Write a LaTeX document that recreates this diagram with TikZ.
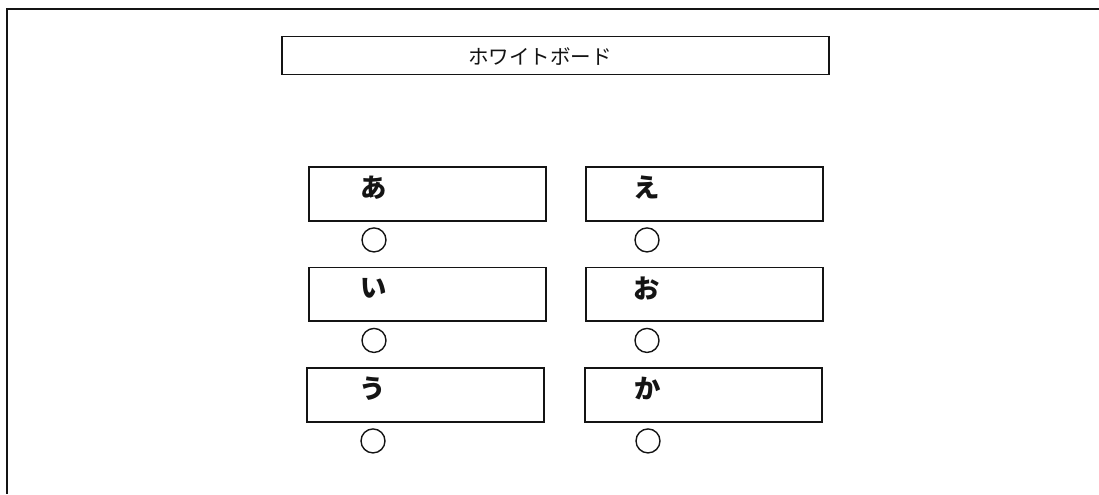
\documentclass[tikz,border=0pt]{standalone}
\usepackage{fontspec}
\newfontfamily\jpfont{Noto Sans CJK JP}
\usepackage{tikz}
\usetikzlibrary{positioning,calc}
\definecolor{linecolor}{RGB}{20,20,20}
\tikzstyle{board}=[rectangle,draw=linecolor,line width=1.1pt,minimum width=10.94cm,minimum height=0.76cm,inner sep=0pt]
\tikzstyle{answer box}=[rectangle,draw=linecolor,line width=1.1pt,minimum width=4.74cm,minimum height=1.08cm,inner sep=0pt]
\tikzstyle{answer label}=[inner sep=0pt,text=linecolor,font=\jpfont\bfseries\fontsize{15pt}{15pt}\selectfont]
\tikzstyle{answer mark}=[circle,draw=linecolor,line width=0.8pt,minimum size=0.48cm,inner sep=0pt]
\tikzstyle{frameline}=[line width=1.2pt,draw=linecolor]

\begin{document}
\begin{tikzpicture}[x=0.02cm,y=-0.02cm]
\def\rowsep{100.5}
\def\boxtop{166}
\def\circlesep{18}
\useasboundingbox (0,0) rectangle (1099,494);

	% Frame
    \coordinate (F-tr) at (1099,9);
    \coordinate (F-tl) at (7,9);
    \coordinate (F-bl) at (7,494);
    \draw[frameline] (F-tr) -- (F-tl) -- (F-bl);

	% Whiteboard
    \node[board] (WB) at (555.5,55.5) {};
    \node[inner sep=0pt, text=linecolor, font=\jpfont\fontsize{11.7pt}{12pt}\selectfont] (WB-text) at (540,57) {ホワイトボード};

	% Answer boxes
    \foreach \name / \txt / \col / \row / \xbox / \xlab in {1/あ/1/0/308/374, 2/い/1/1/308/374, 3/う/1/2/306/373, 4/え/2/0/585/647, 5/お/2/1/585/647, 6/か/2/2/584/648}
    {
        \path node[answer box, anchor=north west] (B-\name) at (\xbox,\boxtop + \rowsep*\row) {};
        \path node[answer label] (L-\name) at ($(B-\name.west)+(\xlab-\xbox,-6)$) {\txt};
        \path node[answer mark] (C-\name) at ($(B-\name.south west)+(\xlab-\xbox,\circlesep)$) {};
    }

\end{tikzpicture}
\end{document}
